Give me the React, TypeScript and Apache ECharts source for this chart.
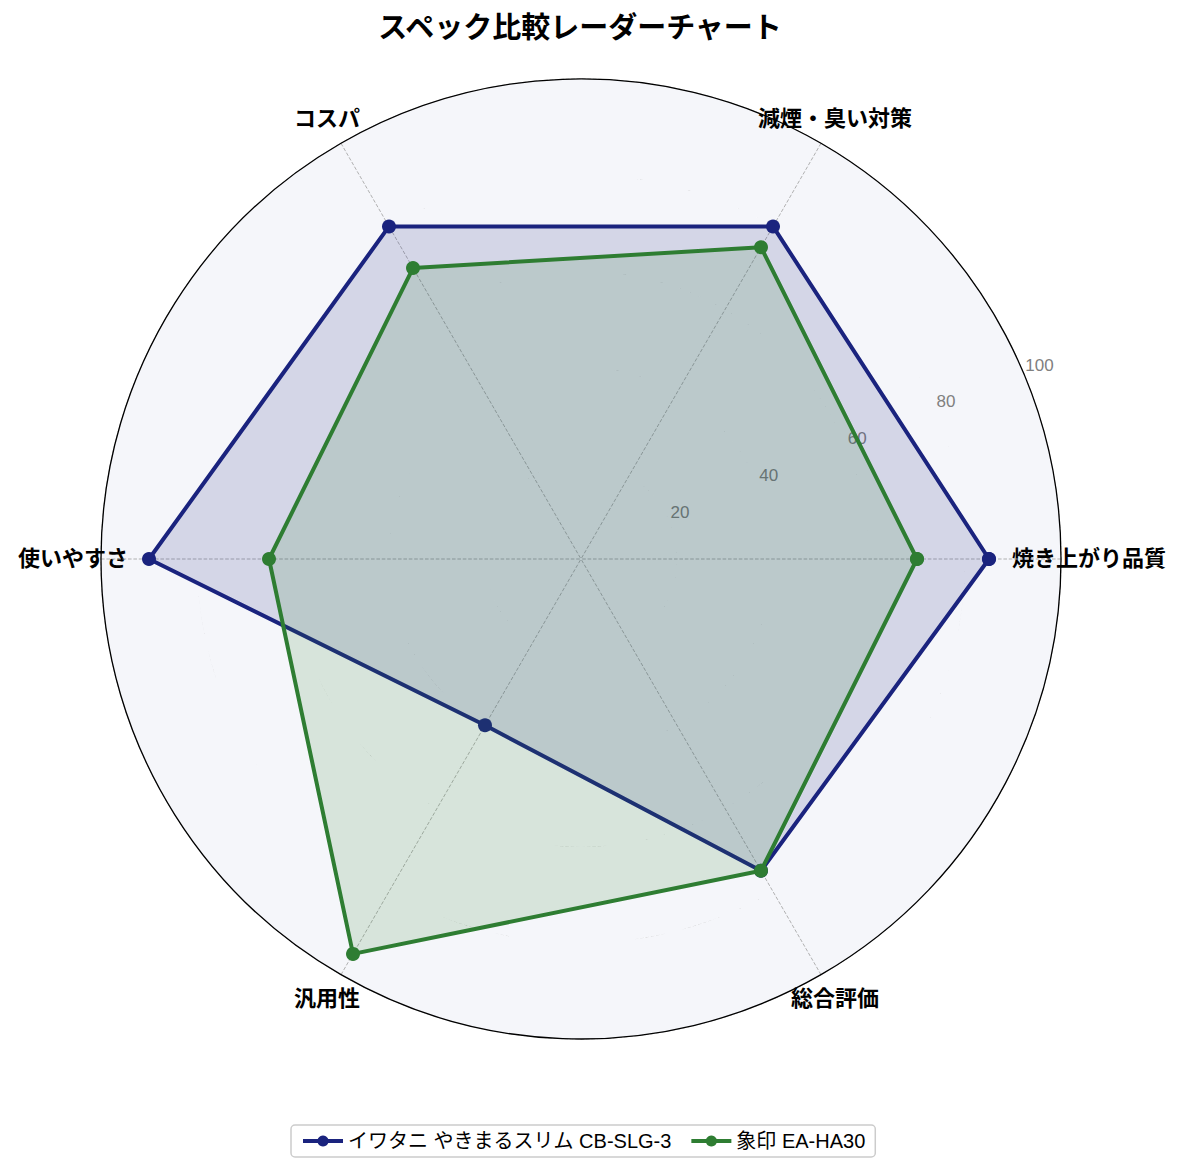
import React, { useEffect, useRef } from 'react';
import * as echarts from 'echarts';

const categories = ['焼き上がり品質', '減煙・臭い対策', 'コスパ', '使いやすさ', '汎用性', '総合評価'];
const seriesNames = ['イワタニ やきまるスリム CB-SLG-3', '象印 EA-HA30'];
const iwataniValues = [85, 80, 80, 90, 40, 75];
const zojirushiValues = [70, 75, 70, 65, 95, 75];
const radiusTicks = [0, 20, 40, 60, 80, 100];

const FONT = "'Liberation Sans', 'Noto Sans CJK JP', sans-serif";
const CJK = "'Noto Sans CJK JP', sans-serif";
const LABEL_R = 508; // 軸ラベル中心までの距離(px)
const LABEL_LIFT = 3; // 縦位置の微調整

// 角度に変換して最初の点で閉じる
const toPolar = (values: number[]) => {
  const step = 360 / categories.length;
  const pts = values.map((v, i) => [v, i * step]);
  pts.push([values[0], 360]);
  return pts;
};

// 中心に置いたラベルを padding でずらして、円の外側の中心位置に持っていく
const buildRich = () => {
  const step = 360 / categories.length;
  const rich: Record<string, any> = {};
  categories.forEach((_, i) => {
    const a = (i * step * Math.PI) / 180;
    const dx = LABEL_R * Math.cos(a);
    const dy = -LABEL_R * Math.sin(a) - LABEL_LIFT;
    rich['l' + i] = {
      fontFamily: CJK,
      fontSize: 22,
      fontWeight: 'bold',
      color: '#000',
      padding: [Math.max(0, 2 * dy), Math.max(0, -2 * dx), Math.max(0, -2 * dy), Math.max(0, 2 * dx)],
    };
  });
  return rich;
};

const App: React.FC = () => {
  const chartRef = useRef<HTMLDivElement | null>(null);

  useEffect(() => {
    document.body.style.margin = '0';
    if (!chartRef.current) return;
    const chart = echarts.init(chartRef.current, undefined, { renderer: 'svg' });
    const step = 360 / categories.length;
    const grey = '#a8a8a8';

    const option: echarts.EChartsOption = {
      animation: false,
      backgroundColor: '#ffffff',
      title: {
        text: 'スペック比較レーダーチャート',
        left: 575,
        top: 5,
        textAlign: 'center',
        textStyle: { fontFamily: CJK, fontSize: 29, fontWeight: 'bold', color: '#000' },
      },
      legend: {
        data: seriesNames,
        left: 291,
        top: 1125,
        orient: 'horizontal',
        padding: [6, 10],
        itemGap: 18,
        itemWidth: 40,
        itemHeight: 14,
        lineStyle: { width: 4 },
        borderColor: '#cccccc',
        borderWidth: 1.5,
        borderRadius: 4,
        textStyle: { fontFamily: FONT, fontSize: 20, color: '#000' },
      },
      polar: [
        { center: [581, 559], radius: 480 },
        { center: [581, 559], radius: 480 },
      ],
      angleAxis: [
        {
          polarIndex: 0,
          type: 'value',
          min: 0,
          max: 360,
          interval: step,
          startAngle: 0,
          clockwise: false,
          axisLine: { show: true, lineStyle: { color: '#000', width: 1.3 } },
          axisTick: { show: false },
          splitLine: { show: true, lineStyle: { color: grey, type: 'dashed', width: 0.9 } },
          axisLabel: {
            margin: -480,
            fontFamily: CJK,
            fontSize: 22,
            fontWeight: 'bold',
            color: '#000',
            formatter: (v: number) => {
              const i = Math.round(v / step);
              return i < categories.length ? `{l${i}|${categories[i]}}` : '';
            },
            rich: buildRich(),
          },
        },
        {
          polarIndex: 1,
          type: 'value',
          min: 0,
          max: 360,
          startAngle: 22.5,
          clockwise: false,
          show: false,
        },
      ],
      radiusAxis: [
        {
          polarIndex: 0,
          min: radiusTicks[0],
          max: radiusTicks[radiusTicks.length - 1],
          interval: 20,
          axisLine: { show: false },
          axisTick: { show: false },
          axisLabel: { show: false },
          splitLine: { show: true, lineStyle: { color: grey, type: 'dashed', width: 0.9 } },
          splitArea: { show: true, areaStyle: { color: ['#f5f6fa'] } },
        },
        {
          polarIndex: 1,
          min: radiusTicks[0],
          max: radiusTicks[radiusTicks.length - 1],
          interval: 20,
          axisLine: { show: false },
          axisTick: { show: false },
          splitLine: { show: false },
          axisLabel: {
            margin: 11,
            align: 'left',
            verticalAlign: 'middle',
            padding: [0, 0, 0, 5],
            fontFamily: FONT,
            fontSize: 17,
            color: '#808080',
            formatter: (v: number) => (v === 0 ? '' : String(v)),
          },
        },
      ],
      series: [
        {
          name: seriesNames[0],
          type: 'line',
          coordinateSystem: 'polar',
          polarIndex: 0,
          data: toPolar(iwataniValues),
          symbol: 'circle',
          symbolSize: 14,
          color: '#1a237e',
          lineStyle: { width: 4, color: '#1a237e' },
          areaStyle: { color: '#1a237e', opacity: 0.15 },
          z: 3,
        },
        {
          name: seriesNames[1],
          type: 'line',
          coordinateSystem: 'polar',
          polarIndex: 0,
          data: toPolar(zojirushiValues),
          symbol: 'circle',
          symbolSize: 14,
          color: '#2e7d32',
          lineStyle: { width: 4, color: '#2e7d32' },
          areaStyle: { color: '#2e7d32', opacity: 0.15 },
          z: 4,
        },
      ],
    };

    chart.setOption(option);
    return () => {
      chart.dispose();
    };
  }, []);

  return <div ref={chartRef} style={{ width: '1184px', height: '1174px' }} />;
};

export default App;
